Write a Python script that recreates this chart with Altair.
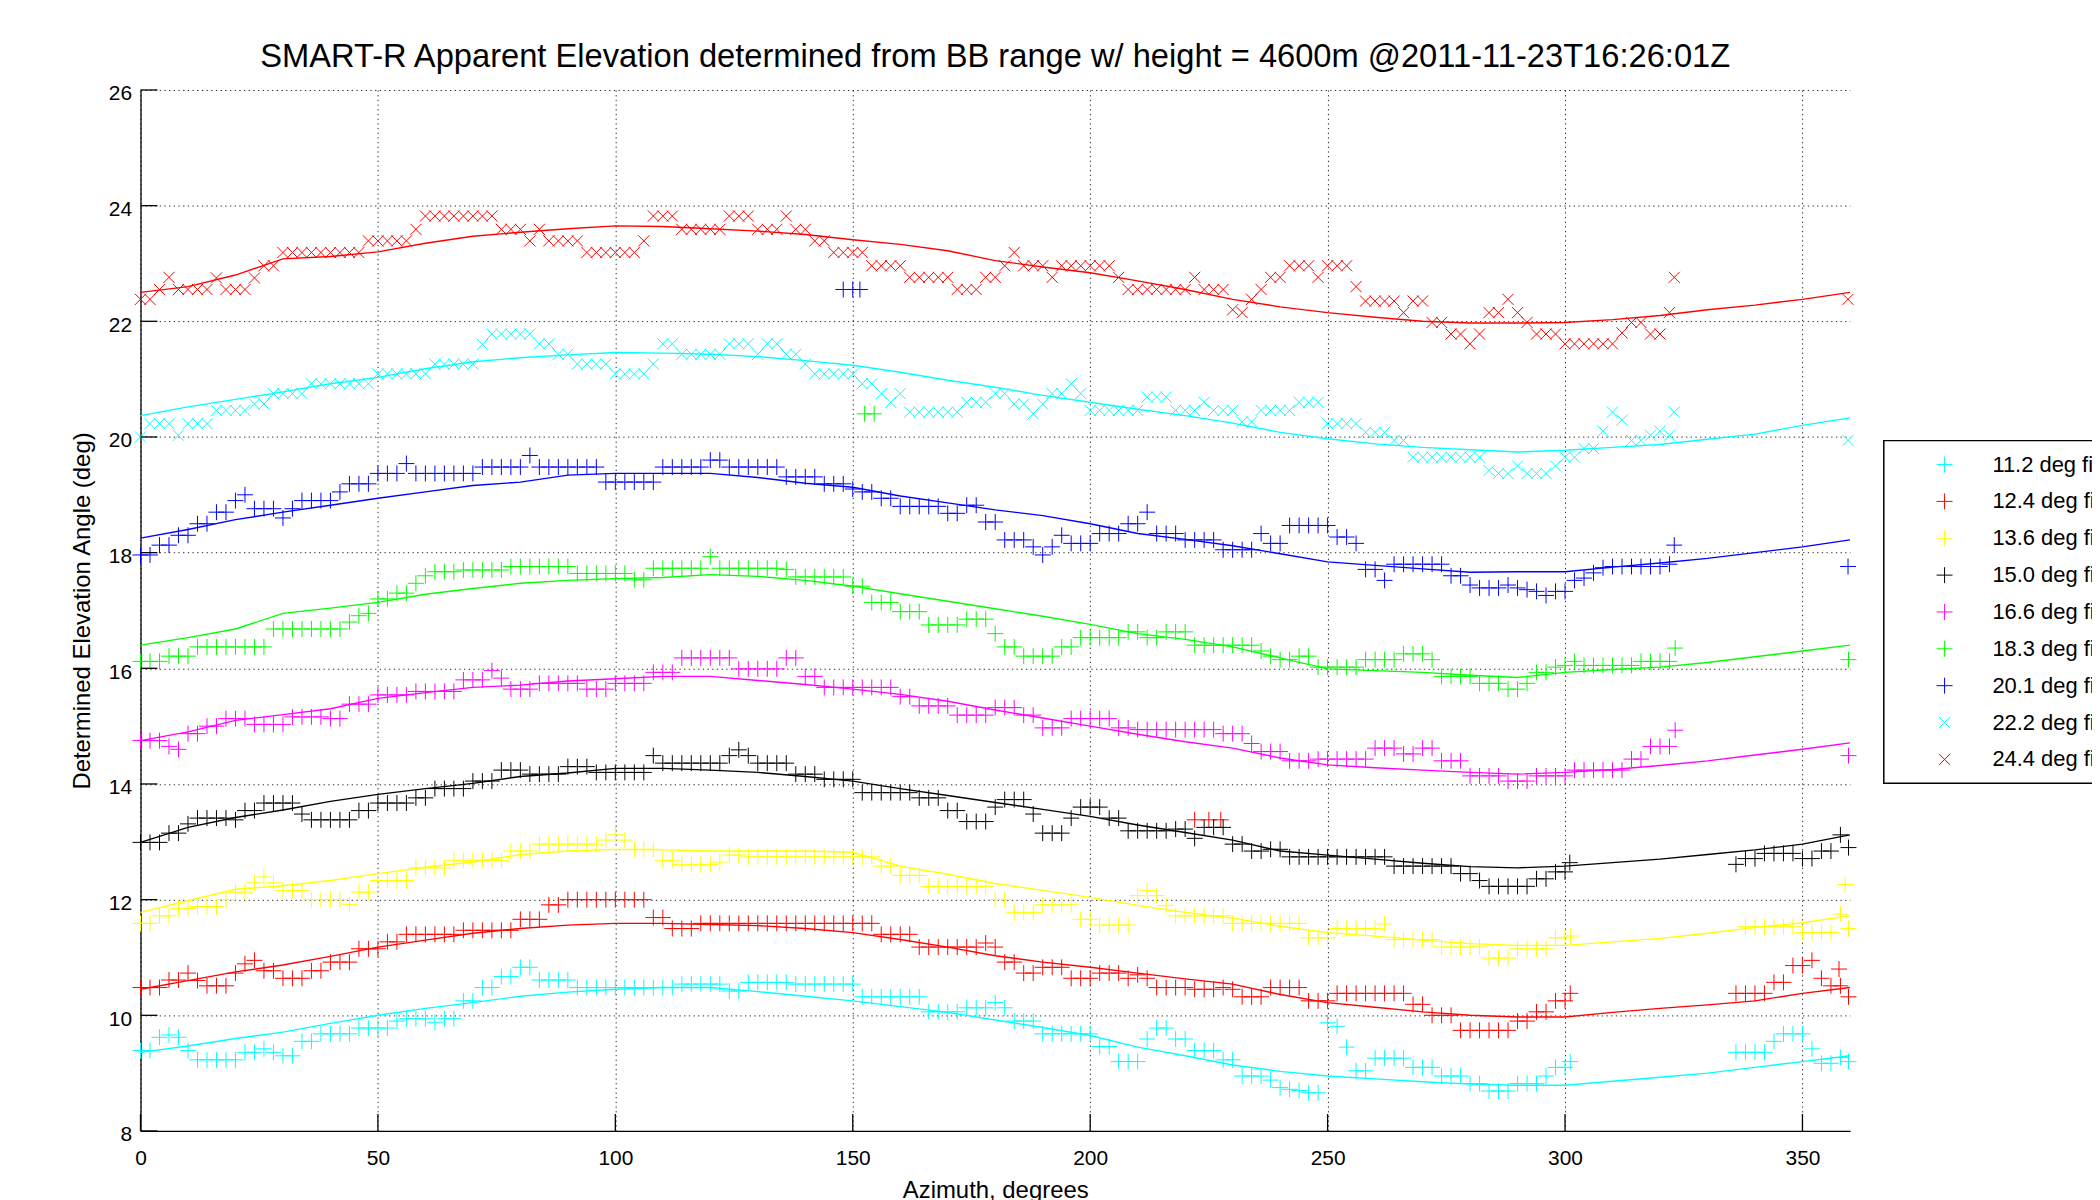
import altair as alt
import pandas as pd

N = None

TITLE = "SMART-R Apparent Elevation determined from BB range w/ height = 4600m @2011-11-23T16:26:01Z"
X_TITLE = "Azimuth, degrees"
Y_TITLE = "Determined Elevation Angle (deg)"

LABELS = ["11.2 deg fit", "12.4 deg fit", "13.6 deg fit", "15.0 deg fit", "16.6 deg fit",
          "18.3 deg fit", "20.1 deg fit", "22.2 deg fit", "24.4 deg fit"]
COLORS = ["#00ffff", "#ff0000", "#ffff00", "#000000", "#ff00ff",
          "#00ff00", "#0000ff", "#00ffff", "#ff0000"]
PLUS = "M-1,0L1,0M0,-1L0,1"
CROSS = "M-0.7,-0.7L0.7,0.7M-0.7,0.7L0.7,-0.7"
SHAPES = [PLUS] * 7 + [CROSS] * 2

TICK_X = [0, 50, 100, 150, 200, 250, 300, 350]
TICK_Y = [8, 10, 12, 14, 16, 18, 20, 22, 24, 26]

# azimuth grid of the scan samples (every 2 degrees)
AZ = list(range(0, 360, 2))

S112 = [
    9.39, 9.39, 9.62, 9.66, 9.62, 9.39, 9.23, 9.23, 9.23, 9.23,
    9.23, 9.36, 9.36, 9.42, 9.36, 9.30, 9.30, 9.55, 9.55, 9.68,
    9.68, 9.68, 9.68, 9.78, 9.78, 9.78, 9.78, 9.90, 9.94, 9.94,
    9.94, 9.88, 9.94, 9.94, 10.25, 10.25, 10.48, 10.48, 10.67, 10.67,
    10.83, 10.83, 10.61, 10.61, 10.61, 10.61, 10.48, 10.48, 10.48, 10.48,
    10.48, 10.48, 10.48, 10.48, 10.48, 10.48, 10.48, 10.54, 10.54, 10.54,
    10.54, 10.54, 10.42, 10.42, 10.57, 10.57, 10.57, 10.57, 10.57, 10.54,
    10.54, 10.54, 10.54, 10.54, 10.54, 10.54, 10.32, 10.32, 10.32, 10.32,
    10.32, 10.32, 10.32, 10.06, 10.06, 10.06, 10.06, 10.13, 10.13, 10.13,
    10.22, 10.13, 9.90, 9.90, 9.90, 9.68, 9.68, 9.68, 9.68, 9.68,
    9.68, 9.46, 9.46, 9.20, 9.20, 9.20, 9.59, 9.78, 9.78, 9.59,
    9.59, 9.39, 9.39, 9.39, 9.23, 9.23, 8.95, 8.95, 8.95, 8.88,
    8.75, 8.72, 8.70, 8.66, 8.66, 9.87, 9.81, 9.45, 9.04, 9.04,
    9.26, 9.26, 9.26, 9.26, 9.10, 9.10, 9.10, 8.95, 8.95, 8.95,
    8.82, 8.82, 8.69, 8.69, 8.69, 8.82, 8.82, 8.82, 8.95, 9.10,
    9.10, N, N, N, N, N, N, N, N, N,
    N, N, N, N, N, N, N, N, 9.36, 9.36,
    9.36, 9.36, 9.55, 9.68, 9.68, 9.68, 9.42, 9.17, 9.17, 9.27,
]
S124 = [
    10.48, 10.48, 10.48, 10.61, 10.61, 10.73, 10.60, 10.51, 10.51, 10.51,
    10.73, 10.89, 10.95, 10.77, 10.77, 10.64, 10.64, 10.64, 10.77, 10.77,
    10.92, 10.92, 10.92, 11.15, 11.15, 11.15, 11.27, 11.27, 11.40, 11.40,
    11.40, 11.40, 11.40, 11.40, 11.47, 11.47, 11.47, 11.47, 11.47, 11.47,
    11.66, 11.66, 11.66, 11.91, 11.91, 12.00, 12.00, 12.00, 12.00, 12.00,
    12.00, 12.00, 12.00, 12.00, 11.69, 11.69, 11.50, 11.50, 11.50, 11.59,
    11.59, 11.59, 11.59, 11.59, 11.59, 11.59, 11.59, 11.59, 11.59, 11.59,
    11.59, 11.59, 11.59, 11.59, 11.59, 11.59, 11.59, 11.59, 11.40, 11.40,
    11.40, 11.40, 11.18, 11.18, 11.18, 11.18, 11.18, 11.18, 11.18, 11.25,
    11.18, 10.92, 10.92, 10.73, 10.73, 10.83, 10.83, 10.83, 10.64, 10.64,
    10.64, 10.73, 10.73, 10.73, 10.64, 10.70, 10.64, 10.48, 10.48, 10.48,
    10.48, 10.45, 10.45, 10.45, 10.48, 10.45, 10.32, 10.32, 10.32, 10.48,
    10.48, 10.48, 10.48, 10.25, 10.25, 10.25, 10.38, 10.38, 10.38, 10.38,
    10.38, 10.38, 10.38, 10.38, 10.19, 10.19, 10.00, 10.00, 10.00, 9.74,
    9.74, 9.74, 9.74, 9.74, 9.74, 9.90, 9.90, 10.06, 10.06, 10.25,
    10.25, N, N, N, N, N, N, N, N, N,
    N, N, N, N, N, N, N, N, 10.38, 10.38,
    10.38, 10.38, 10.57, 10.57, 10.86, 10.86, 10.95, 10.64, 10.51, 10.51,
]
S136 = [
    11.59, 11.59, 11.72, 11.72, 11.85, 11.85, 11.88, 11.88, 11.88, 12.00,
    12.13, 12.13, 12.29, 12.39, 12.29, 12.16, 12.16, 12.16, 12.00, 12.00,
    12.00, 12.00, 11.92, 12.13, 12.13, 12.33, 12.33, 12.33, 12.33, 12.55,
    12.55, 12.55, 12.55, 12.68, 12.68, 12.68, 12.68, 12.68, 12.68, 12.84,
    12.84, 12.84, 12.96, 12.96, 12.96, 12.96, 12.96, 12.96, 12.96, 13.03,
    13.12, 13.03, 12.87, 12.87, 12.87, 12.68, 12.68, 12.61, 12.61, 12.61,
    12.61, 12.65, 12.77, 12.77, 12.74, 12.74, 12.74, 12.74, 12.74, 12.74,
    12.74, 12.74, 12.74, 12.74, 12.74, 12.74, 12.74, 12.74, 12.58, 12.58,
    12.42, 12.42, 12.42, 12.23, 12.23, 12.23, 12.23, 12.23, 12.23, 12.23,
    12.00, 12.00, 11.78, 11.78, 11.78, 11.91, 11.91, 11.91, 11.91, 11.66,
    11.66, 11.56, 11.56, 11.56, 11.56, 12.07, 12.16, 12.07, 11.90, 11.72,
    11.72, 11.72, 11.72, 11.72, 11.72, 11.59, 11.59, 11.59, 11.59, 11.59,
    11.59, 11.59, 11.59, 11.34, 11.34, 11.34, 11.50, 11.50, 11.50, 11.50,
    11.50, 11.58, 11.31, 11.31, 11.31, 11.31, 11.31, 11.18, 11.18, 11.18,
    11.18, 11.18, 10.99, 10.99, 10.99, 11.15, 11.15, 11.15, 11.15, 11.34,
    11.34, N, N, N, N, N, N, N, N, N,
    N, N, N, N, N, N, N, N, N, 11.53,
    11.53, 11.53, 11.53, 11.53, 11.53, 11.43, 11.43, 11.43, 11.43, 11.75,
]
S150 = [
    12.99, 12.99, 12.99, 13.15, 13.15, 13.31, 13.41, 13.41, 13.41, 13.41,
    13.38, 13.54, 13.54, 13.67, 13.67, 13.67, 13.67, 13.48, 13.38, 13.38,
    13.38, 13.38, 13.38, 13.54, 13.54, 13.67, 13.67, 13.67, 13.67, 13.76,
    13.76, 13.92, 13.92, 13.92, 13.92, 14.05, 14.05, 14.05, 14.24, 14.24,
    14.24, 14.17, 14.17, 14.17, 14.17, 14.30, 14.30, 14.30, 14.20, 14.20,
    14.20, 14.20, 14.20, 14.20, 14.49, 14.36, 14.36, 14.36, 14.36, 14.36,
    14.36, 14.36, 14.49, 14.59, 14.49, 14.36, 14.36, 14.36, 14.36, 14.17,
    14.17, 14.17, 14.08, 14.08, 14.08, 14.08, 13.85, 13.85, 13.85, 13.85,
    13.85, 13.85, 13.76, 13.76, 13.76, 13.54, 13.54, 13.35, 13.35, 13.35,
    13.60, 13.73, 13.73, 13.73, 13.48, 13.15, 13.15, 13.15, 13.41, 13.60,
    13.60, 13.60, 13.41, 13.41, 13.19, 13.19, 13.19, 13.19, 13.19, 13.22,
    13.22, 13.06, 13.25, 13.25, 13.25, 12.96, 12.96, 12.84, 12.84, 12.87,
    12.87, 12.74, 12.74, 12.74, 12.74, 12.74, 12.74, 12.74, 12.74, 12.74,
    12.74, 12.74, 12.58, 12.58, 12.58, 12.58, 12.58, 12.58, 12.58, 12.45,
    12.45, 12.33, 12.23, 12.23, 12.23, 12.23, 12.23, 12.36, 12.36, 12.48,
    12.48, N, N, N, N, N, N, N, N, N,
    N, N, N, N, N, N, N, N, 12.61, 12.71,
    12.71, 12.80, 12.80, 12.80, 12.80, 12.71, 12.71, 12.84, 12.84, 13.12,
]
S166 = [
    14.75, 14.75, 14.75, 14.65, 14.60, 14.87, 14.87, 15.00, 15.00, 15.13,
    15.13, 15.13, 15.03, 15.03, 15.03, 15.03, 15.16, 15.16, 15.16, 15.16,
    15.13, 15.13, 15.38, 15.38, 15.38, 15.54, 15.54, 15.54, 15.54, 15.60,
    15.60, 15.60, 15.60, 15.60, 15.80, 15.80, 15.80, 15.96, 15.83, 15.64,
    15.64, 15.64, 15.74, 15.74, 15.74, 15.74, 15.74, 15.64, 15.64, 15.64,
    15.74, 15.74, 15.74, 15.74, 15.93, 15.93, 15.93, 16.18, 16.18, 16.18,
    16.18, 16.18, 16.18, 15.99, 15.99, 15.99, 15.99, 15.99, 16.18, 16.18,
    15.86, 15.86, 15.67, 15.67, 15.67, 15.67, 15.67, 15.67, 15.67, 15.67,
    15.51, 15.51, 15.35, 15.35, 15.35, 15.35, 15.19, 15.19, 15.19, 15.19,
    15.32, 15.32, 15.32, 15.19, 15.19, 14.97, 14.97, 14.97, 15.13, 15.13,
    15.13, 15.13, 15.13, 14.97, 14.97, 14.94, 14.94, 14.94, 14.94, 14.94,
    14.94, 14.94, 14.94, 14.94, 14.87, 14.87, 14.87, 14.70, 14.56, 14.56,
    14.56, 14.40, 14.40, 14.40, 14.43, 14.43, 14.43, 14.43, 14.43, 14.43,
    14.62, 14.62, 14.62, 14.52, 14.52, 14.62, 14.62, 14.40, 14.40, 14.40,
    14.14, 14.14, 14.14, 14.14, 14.05, 14.05, 14.05, 14.14, 14.14, 14.14,
    14.14, 14.24, 14.24, 14.24, 14.24, 14.24, 14.24, 14.43, 14.43, 14.65,
    14.65, 14.65, N, N, N, N, N, N, N, N,
    N, N, N, N, N, N, N, N, N, N,
]
S183 = [
    16.12, 16.12, 16.12, 16.21, 16.21, 16.21, 16.37, 16.37, 16.37, 16.37,
    16.37, 16.37, 16.37, 16.37, 16.68, 16.68, 16.68, 16.68, 16.68, 16.68,
    16.68, 16.68, 16.80, 16.91, 16.95, 17.20, 17.20, 17.30, 17.30, 17.47,
    17.60, 17.67, 17.67, 17.67, 17.70, 17.70, 17.70, 17.70, 17.70, 17.76,
    17.76, 17.76, 17.76, 17.76, 17.76, 17.76, 17.64, 17.64, 17.64, 17.64,
    17.64, 17.64, 17.53, 17.53, 17.73, 17.73, 17.73, 17.73, 17.73, 17.73,
    17.93, 17.73, 17.73, 17.73, 17.73, 17.73, 17.73, 17.73, 17.71, 17.58,
    17.58, 17.58, 17.58, 17.58, 17.58, 17.42, 17.42, 17.14, 17.14, 17.14,
    16.98, 16.98, 16.98, 16.75, 16.75, 16.75, 16.75, 16.85, 16.85, 16.85,
    16.60, 16.37, 16.37, 16.21, 16.21, 16.21, 16.21, 16.37, 16.37, 16.53,
    16.53, 16.53, 16.53, 16.53, 16.63, 16.63, 16.53, 16.53, 16.63, 16.63,
    16.63, 16.40, 16.40, 16.40, 16.40, 16.40, 16.40, 16.40, 16.30, 16.21,
    16.15, 16.15, 16.21, 16.21, 16.02, 16.02, 16.02, 16.02, 16.02, 16.15,
    16.15, 16.15, 16.15, 16.25, 16.25, 16.25, 16.15, 15.86, 15.86, 15.86,
    15.86, 15.74, 15.74, 15.74, 15.64, 15.64, 15.74, 15.93, 15.93, 16.02,
    16.05, 16.12, 16.05, 16.05, 16.05, 16.05, 16.05, 16.05, 16.12, 16.12,
    16.12, 16.12, N, N, N, N, N, N, N, N,
    N, N, N, N, N, N, N, N, N, N,
]
S201 = [
    17.96, 17.96, 18.13, 18.13, 18.30, 18.30, 18.50, 18.50, 18.70, 18.70,
    18.90, 19.00, 18.76, 18.76, 18.76, 18.60, 18.76, 18.90, 18.90, 18.90,
    18.90, 19.05, 19.19, 19.19, 19.19, 19.37, 19.37, 19.37, 19.54, 19.37,
    19.37, 19.37, 19.37, 19.37, 19.37, 19.37, 19.48, 19.48, 19.48, 19.48,
    19.48, 19.68, 19.48, 19.48, 19.48, 19.48, 19.48, 19.48, 19.48, 19.22,
    19.22, 19.22, 19.22, 19.22, 19.22, 19.48, 19.48, 19.48, 19.48, 19.48,
    19.60, 19.60, 19.48, 19.48, 19.48, 19.48, 19.48, 19.48, 19.31, 19.31,
    19.31, 19.31, 19.19, 19.19, 19.19, 19.10, 19.05, 19.05, 18.94, 18.94,
    18.80, 18.80, 18.80, 18.80, 18.80, 18.68, 18.68, 18.82, 18.82, 18.53,
    18.53, 18.22, 18.22, 18.22, 18.10, 17.96, 18.10, 18.30, 18.16, 18.16,
    18.16, 18.33, 18.33, 18.33, 18.50, 18.50, 18.70, 18.33, 18.33, 18.33,
    18.22, 18.22, 18.22, 18.22, 18.05, 18.05, 18.05, 18.05, 18.33, 18.16,
    18.16, 18.47, 18.47, 18.47, 18.47, 18.47, 18.27, 18.27, 18.16, 17.71,
    17.71, 17.52, 17.80, 17.80, 17.80, 17.80, 17.80, 17.80, 17.60, 17.60,
    17.44, 17.39, 17.39, 17.39, 17.44, 17.39, 17.36, 17.33, 17.26, 17.33,
    17.33, 17.52, 17.56, 17.65, 17.74, 17.76, 17.76, 17.76, 17.76, 17.76,
    17.76, 17.80, N, N, N, N, N, N, N, N,
    N, N, N, N, N, N, N, N, N, N,
]
S222 = [
    20.00, 20.23, 20.23, 20.23, 20.03, 20.23, 20.23, 20.23, 20.46, 20.46,
    20.46, 20.46, 20.57, 20.57, 20.75, 20.75, 20.75, 20.75, 20.92, 20.92,
    20.92, 20.92, 20.92, 20.92, 20.92, 21.09, 21.09, 21.09, 21.09, 21.09,
    21.09, 21.26, 21.26, 21.26, 21.26, 21.26, 21.60, 21.78, 21.78, 21.78,
    21.78, 21.78, 21.61, 21.61, 21.43, 21.43, 21.26, 21.26, 21.26, 21.26,
    21.09, 21.09, 21.09, 21.09, 21.26, 21.61, 21.61, 21.43, 21.43, 21.43,
    21.43, 21.43, 21.61, 21.61, 21.61, 21.43, 21.61, 21.61, 21.43, 21.43,
    21.26, 21.09, 21.09, 21.09, 21.09, 21.09, 20.92, 20.92, 20.75, 20.60,
    20.75, 20.43, 20.43, 20.43, 20.43, 20.43, 20.43, 20.60, 20.60, 20.60,
    20.75, 20.75, 20.57, 20.57, 20.40, 20.57, 20.75, 20.75, 20.92, 20.75,
    20.46, 20.46, 20.46, 20.46, 20.46, 20.46, 20.69, 20.69, 20.69, 20.46,
    20.46, 20.46, 20.60, 20.46, 20.46, 20.46, 20.26, 20.26, 20.46, 20.46,
    20.46, 20.46, 20.60, 20.60, 20.60, 20.23, 20.23, 20.23, 20.23, 20.08,
    20.08, 20.08, 19.94, 19.94, 19.65, 19.65, 19.65, 19.65, 19.65, 19.65,
    19.65, 19.65, 19.42, 19.37, 19.37, 19.50, 19.37, 19.37, 19.37, 19.50,
    19.65, 19.65, 19.80, 19.80, 20.10, 20.43, 20.29, 19.94, 19.94, 20.03,
    20.10, 20.03, N, N, N, N, N, N, N, N,
    N, N, N, N, N, N, N, N, N, N,
]
S244 = [
    22.38, 22.38, 22.55, 22.76, 22.55, 22.55, 22.55, 22.55, 22.75, 22.55,
    22.55, 22.55, 22.75, 22.96, 22.96, 23.19, 23.19, 23.19, 23.19, 23.19,
    23.19, 23.19, 23.19, 23.19, 23.39, 23.39, 23.39, 23.39, 23.39, 23.59,
    23.82, 23.82, 23.82, 23.82, 23.82, 23.82, 23.82, 23.82, 23.59, 23.59,
    23.59, 23.39, 23.59, 23.39, 23.39, 23.39, 23.39, 23.19, 23.19, 23.19,
    23.19, 23.19, 23.19, 23.39, 23.82, 23.82, 23.82, 23.59, 23.59, 23.59,
    23.59, 23.59, 23.82, 23.82, 23.82, 23.59, 23.59, 23.59, 23.82, 23.59,
    23.59, 23.39, 23.39, 23.19, 23.19, 23.19, 23.19, 22.96, 22.96, 22.96,
    22.96, 22.76, 22.76, 22.76, 22.76, 22.76, 22.55, 22.55, 22.55, 22.76,
    22.76, 22.96, 23.19, 22.96, 22.96, 22.96, 22.76, 22.96, 22.96, 22.96,
    22.96, 22.96, 22.96, 22.76, 22.55, 22.55, 22.55, 22.55, 22.55, 22.55,
    22.55, 22.76, 22.55, 22.55, 22.55, 22.20, 22.15, 22.38, 22.55, 22.76,
    22.76, 22.96, 22.96, 22.96, 22.76, 22.96, 22.96, 22.96, 22.60, 22.35,
    22.35, 22.35, 22.35, 22.15, 22.35, 22.35, 21.98, 21.98, 21.78, 21.78,
    21.61, 21.78, 22.15, 22.15, 22.38, 22.15, 21.98, 21.78, 21.78, 21.78,
    21.61, 21.61, 21.61, 21.61, 21.61, 21.61, 21.80, 21.98, 21.98, 21.78,
    21.78, 22.15, N, N, N, N, N, N, N, N,
    N, N, N, N, N, N, N, N, N, N,
]
SCANS = [S112, S124, S136, S150, S166, S183, S201, S222, S244]

# isolated samples off the 2-degree grid (end points, outliers)
EXTRA_AZ = [
    [301.1, 359.7],
    [301.1, 357.7, 359.7, 222.0, 225.0, 227.5],
    [301.2, 359.0, 359.7],
    [301.0, 359.7],
    [323.2, 359.7],
    [323.2, 359.7, 152.5, 154.5],
    [323.0, 359.6, 148.0, 150.0, 151.5],
    [323.0, 359.6],
    [323.0, 359.6],
]
EXTRA_EL = [
    [9.20, 9.20],
    [10.38, 10.80, 10.32, 13.38, 13.38, 13.38],
    [11.37, 12.26, 11.50],
    [12.64, 12.90],
    [14.93, 14.49],
    [16.35, 16.15, 20.40, 20.40],
    [18.13, 17.76, 22.55, 22.55, 22.55],
    [20.43, 19.94],
    [22.76, 22.38],
]

# fitted curves, sampled every 10 degrees
FIT_AZ = list(range(0, 361, 10))
FIT112 = [9.36, 9.47, 9.60, 9.71, 9.86, 10.00, 10.12, 10.22, 10.33, 10.40, 10.45, 10.48, 10.48,
          10.41, 10.33, 10.25, 10.15, 10.05, 9.92, 9.79, 9.65, 9.45, 9.30, 9.14, 9.03, 8.95,
          8.90, 8.85, 8.81, 8.79, 8.79, 8.86, 8.93, 9.00, 9.10, 9.20, 9.30]
FIT124 = [10.45, 10.60, 10.75, 10.87, 11.02, 11.18, 11.30, 11.42, 11.50, 11.56, 11.59, 11.59,
          11.57, 11.55, 11.50, 11.43, 11.31, 11.18, 11.03, 10.92, 10.83, 10.73, 10.63, 10.54,
          10.36, 10.22, 10.14, 10.06, 10.00, 9.97, 9.97, 10.05, 10.12, 10.18, 10.25, 10.38, 10.48]
FIT136 = [11.78, 11.98, 12.18, 12.24, 12.33, 12.45, 12.56, 12.65, 12.78, 12.84, 12.87, 12.86,
          12.84, 12.84, 12.84, 12.82, 12.58, 12.44, 12.28, 12.16, 12.04, 11.90, 11.78, 11.68,
          11.54, 11.43, 11.37, 11.30, 11.24, 11.21, 11.21, 11.27, 11.33, 11.42, 11.52, 11.60, 11.72]
FIT150 = [12.99, 13.25, 13.42, 13.55, 13.70, 13.82, 13.92, 14.01, 14.13, 14.19, 14.27, 14.27,
          14.24, 14.20, 14.13, 14.05, 13.92, 13.80, 13.68, 13.56, 13.44, 13.29, 13.16, 13.03,
          12.84, 12.77, 12.70, 12.63, 12.57, 12.55, 12.58, 12.64, 12.70, 12.78, 12.86, 12.96, 13.12]
FIT166 = [14.75, 14.90, 15.10, 15.20, 15.30, 15.48, 15.58, 15.67, 15.71, 15.78, 15.82, 15.86,
          15.86, 15.79, 15.72, 15.64, 15.55, 15.43, 15.28, 15.14, 15.00, 14.86, 14.73, 14.62,
          14.45, 14.33, 14.28, 14.24, 14.20, 14.17, 14.20, 14.25, 14.32, 14.40, 14.50, 14.60, 14.71]
FIT183 = [16.40, 16.53, 16.68, 16.95, 17.04, 17.14, 17.28, 17.38, 17.47, 17.52, 17.55, 17.57,
          17.62, 17.59, 17.52, 17.42, 17.29, 17.16, 17.03, 16.90, 16.76, 16.60, 16.50, 16.37,
          16.18, 15.99, 15.96, 15.93, 15.88, 15.84, 15.93, 15.98, 16.02, 16.10, 16.20, 16.30, 16.40]
FIT201 = [18.25, 18.40, 18.57, 18.70, 18.82, 18.94, 19.05, 19.16, 19.22, 19.34, 19.37, 19.37,
          19.37, 19.30, 19.20, 19.13, 18.98, 18.86, 18.74, 18.64, 18.50, 18.33, 18.23, 18.12,
          17.98, 17.84, 17.78, 17.72, 17.66, 17.67, 17.67, 17.75, 17.82, 17.90, 18.00, 18.10, 18.22]
FIT222 = [20.37, 20.52, 20.65, 20.78, 20.92, 21.03, 21.18, 21.30, 21.37, 21.42, 21.46, 21.45,
          21.43, 21.39, 21.32, 21.24, 21.12, 20.98, 20.86, 20.72, 20.60, 20.48, 20.37, 20.24,
          20.08, 19.97, 19.88, 19.82, 19.78, 19.74, 19.77, 19.82, 19.87, 19.96, 20.05, 20.20, 20.33]
FIT244 = [22.50, 22.60, 22.80, 23.08, 23.12, 23.20, 23.35, 23.47, 23.54, 23.60, 23.65, 23.64,
          23.60, 23.56, 23.50, 23.41, 23.33, 23.22, 23.05, 22.94, 22.84, 22.70, 22.55, 22.38,
          22.25, 22.15, 22.07, 22.00, 21.97, 21.97, 21.98, 22.03, 22.10, 22.20, 22.28, 22.38, 22.50]
FITS = [FIT112, FIT124, FIT136, FIT150, FIT166, FIT183, FIT201, FIT222, FIT244]

# ---------------------------------------------------------------- tables
pt_rows, fit_rows = [], []
for name, vals, eaz, eel, fit in zip(LABELS, SCANS, EXTRA_AZ, EXTRA_EL, FITS):
    assert len(vals) == len(AZ), (name, len(vals))
    assert len(fit) == len(FIT_AZ), (name, len(fit))
    for a, v in zip(AZ, vals):
        if v is not None:
            pt_rows.append({"az": a, "elev": v, "series": name})
    for a, v in zip(eaz, eel):
        pt_rows.append({"az": a, "elev": v, "series": name})
    for a, v in zip(FIT_AZ, fit):
        fit_rows.append({"az": a, "elev": v, "series": name})
pts_df = pd.DataFrame(pt_rows)
fit_df = pd.DataFrame(fit_rows)
tx_df = pd.DataFrame({"az": TICK_X})
ty_df = pd.DataFrame({"elev": TICK_Y})

# ---------------------------------------------------------------- chart
FONT = "Liberation Sans, Arial, Helvetica, sans-serif"
W, H = 1716, 1045
xs = alt.Scale(domain=[0, 360], nice=False, zero=False)
ys = alt.Scale(domain=[8, 26], nice=False, zero=False)

x_axis = alt.Axis(values=TICK_X, title=X_TITLE, format="d", labelPadding=17, labelFlush=False,
                  labelOverlap=False, titleX=W / 2, titleY=48, titleBaseline="top",
                  titleAlign="center")
y_axis = alt.Axis(values=TICK_Y, title=Y_TITLE, format="d", labelPadding=9, labelOffset=4,
                  labelFlush=False, labelOverlap=False, titleAngle=270, titleX=-58,
                  titleY=H / 2, titleBaseline="middle", titleAlign="center")

legend = alt.Legend(orient="none", legendX=1750, legendY=352, title=None)

points = alt.Chart(pts_df).mark_point(filled=False, size=256, strokeWidth=1, opacity=1).encode(
    x=alt.X("az:Q", scale=xs, axis=x_axis),
    y=alt.Y("elev:Q", scale=ys, axis=y_axis),
    color=alt.Color("series:N", scale=alt.Scale(domain=LABELS, range=COLORS), legend=legend),
    shape=alt.Shape("series:N", scale=alt.Scale(domain=LABELS, range=SHAPES), legend=legend),
)

lines = alt.Chart(fit_df).mark_line(strokeWidth=1.4).encode(
    x=alt.X("az:Q", scale=xs),
    y=alt.Y("elev:Q", scale=ys),
    stroke=alt.Stroke("series:N", scale=alt.Scale(domain=LABELS, range=COLORS), legend=None),
)

xticks = alt.Chart(tx_df).mark_rule(color="black", strokeWidth=1.3).encode(
    x=alt.X("az:Q", scale=xs),
    y=alt.value(H),
    y2=alt.value(H - 17),
)
yticks = alt.Chart(ty_df).mark_rule(color="black", strokeWidth=1.3).encode(
    y=alt.Y("elev:Q", scale=ys),
    x=alt.value(0),
    x2=alt.value(17),
)

chart = (
    alt.layer(points, lines, xticks, yticks)
    .properties(
        width=W,
        height=H,
        title=alt.TitleParams(TITLE, font=FONT, fontSize=32.8, fontWeight="normal", color="black",
                              anchor="middle", frame="group", baseline="alphabetic", offset=16,
                              dy=33),
        autosize=alt.AutoSizeParams(type="none"),
        padding={"left": 133, "top": 80, "right": 243, "bottom": 67},
        background="white",
    )
    .configure_view(strokeOpacity=0)
    .configure_axis(
        domainColor="black", domainWidth=1.3, ticks=False, tickSize=0,
        grid=True, gridColor="black", gridDash=[1.3, 3.4], gridWidth=1, gridOpacity=0.85,
        labelFont=FONT, labelFontSize=21, labelColor="black",
        titleFont=FONT, titleFontSize=24, titleFontWeight="normal", titleColor="black",
    )
    .configure_legend(
        strokeColor="black", strokeWidth=1.5, fillColor="white", padding=13,
        rowPadding=15, symbolOffset=37, labelOffset=37, symbolSize=256,
        symbolStrokeWidth=1, labelFont=FONT, labelFontSize=22, labelColor="black",
        labelLimit=600,
    )
)

chart.save("out.html", embed_options={"renderer": "svg", "actions": False})
